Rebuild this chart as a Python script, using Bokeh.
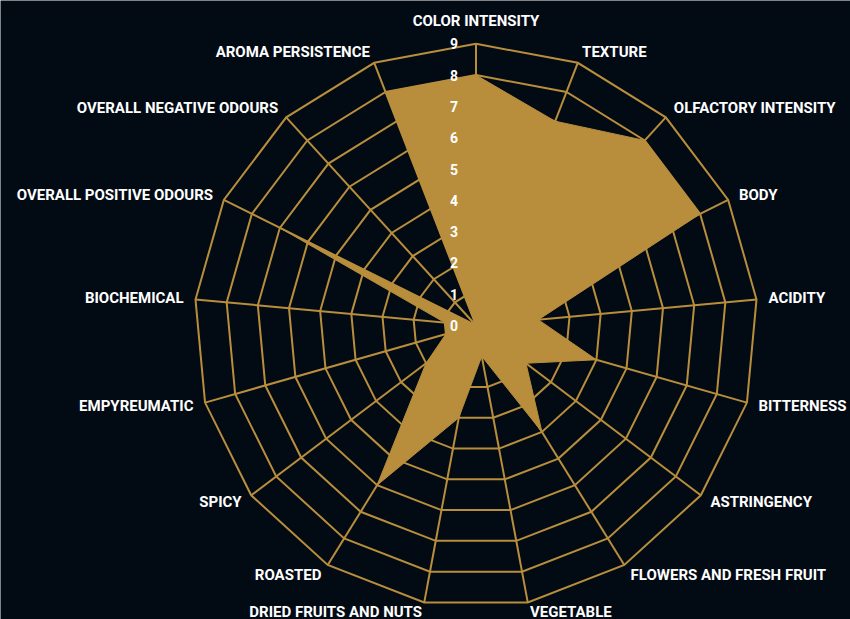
import numpy as np
from bokeh.plotting import figure
from bokeh.models import Range1d, ColumnDataSource
from bokeh.core.properties import value
from bokeh.embed import file_html
from bokeh.resources import INLINE

# ---------------- data ----------------
categories = [
    "COLOR INTENSITY", "TEXTURE", "OLFACTORY INTENSITY", "BODY", "ACIDITY",
    "BITTERNESS", "ASTRINGENCY", "FLOWERS AND FRESH FRUIT", "VEGETABLE",
    "DRIED FRUITS AND NUTS", "ROASTED", "SPICY", "EMPYREUMATIC", "BIOCHEMICAL",
    "OVERALL POSITIVE ODOURS", "OVERALL NEGATIVE ODOURS", "AROMA PERSISTENCE",
]
scores = [8, 7, 8, 8, 2, 4, 2, 4, 1, 3, 6, 2, 1, 1, 7, 0, 8]
tick_values = [0, 1, 2, 3, 4, 5, 6, 7, 8, 9]
tick_labels = ["0", "1", "2", "3", "4", "5", "6", "7", "8", "9"]
scale_max = 9

# ---------------- layout / style ----------------
W, H = 850, 619
CX, CY = 475.5, 325.0
R = 281.7
UNIT = R / scale_max
BG = "#020a14"
GOLD = "#b88e3c"
TEXT = "#ffffff"
FONT = "Roboto"

n = len(categories)
theta = np.arange(n) * 2 * np.pi / n
s, c = np.sin(theta), np.cos(theta)


def px(r):
    return CX + r * s


def py(r):
    return CY - r * c


p = figure(width=W, height=H, x_range=Range1d(0, W), y_range=Range1d(H, 0),
           output_backend="svg", toolbar_location=None, min_border=0,
           background_fill_color=BG, border_fill_color=BG, outline_line_color=None)
p.xaxis.visible = False
p.yaxis.visible = False
p.grid.visible = False

# rings
ring_xs, ring_ys = [], []
for k in tick_values[1:]:
    r = k * UNIT
    xs = list(px(r)) + [px(r)[0]]
    ys = list(py(r)) + [py(r)[0]]
    ring_xs.append(xs)
    ring_ys.append(ys)
p.multi_line(ring_xs, ring_ys, line_color=GOLD, line_width=2, line_join="miter")

# spokes
p.segment(x0=[CX] * n, y0=[CY] * n, x1=list(px(R)), y1=list(py(R)),
          line_color=GOLD, line_width=2)

# data polygon
sc = np.array(scores, dtype=float) * UNIT
p.patch(list(CX + sc * s), list(CY - sc * c), fill_color=GOLD, line_color=GOLD,
        line_width=1, line_join="miter")

# tick labels
p.text(x=[CX - 22] * len(tick_values), y=[CY - v * UNIT for v in tick_values],
       text=tick_labels, text_align="center", text_baseline="middle",
       text_font=value(FONT), text_font_style="bold", text_font_size="14px",
       text_color=TEXT)

# category labels
groups = {}
for i, name in enumerate(categories):
    rr = R + 12
    x = CX + rr * s[i]
    y = CY - rr * c[i]
    est_w = len(name) * 8.8
    if abs(s[i]) < 0.05:
        align = "center"
        if c[i] > 0:
            y = CY - (R + 23)
    elif s[i] > 0:
        align = "left"
        x = min(x, W - 2 - est_w)
    else:
        align = "right"
        x = max(x, 2 + est_w)
    y = min(y, H - 8)
    groups.setdefault(align, {"x": [], "y": [], "t": []})
    g = groups[align]
    g["x"].append(x)
    g["y"].append(y)
    g["t"].append(name)

for align, g in groups.items():
    src = ColumnDataSource(dict(x=g["x"], y=g["y"], t=g["t"]))
    p.text(x="x", y="y", text="t", source=src, text_align=align, text_baseline="middle",
           text_font=value(FONT), text_font_style="bold", text_font_size="15px",
           text_color=TEXT)

open("out.html", "w").write(file_html(p, INLINE))
